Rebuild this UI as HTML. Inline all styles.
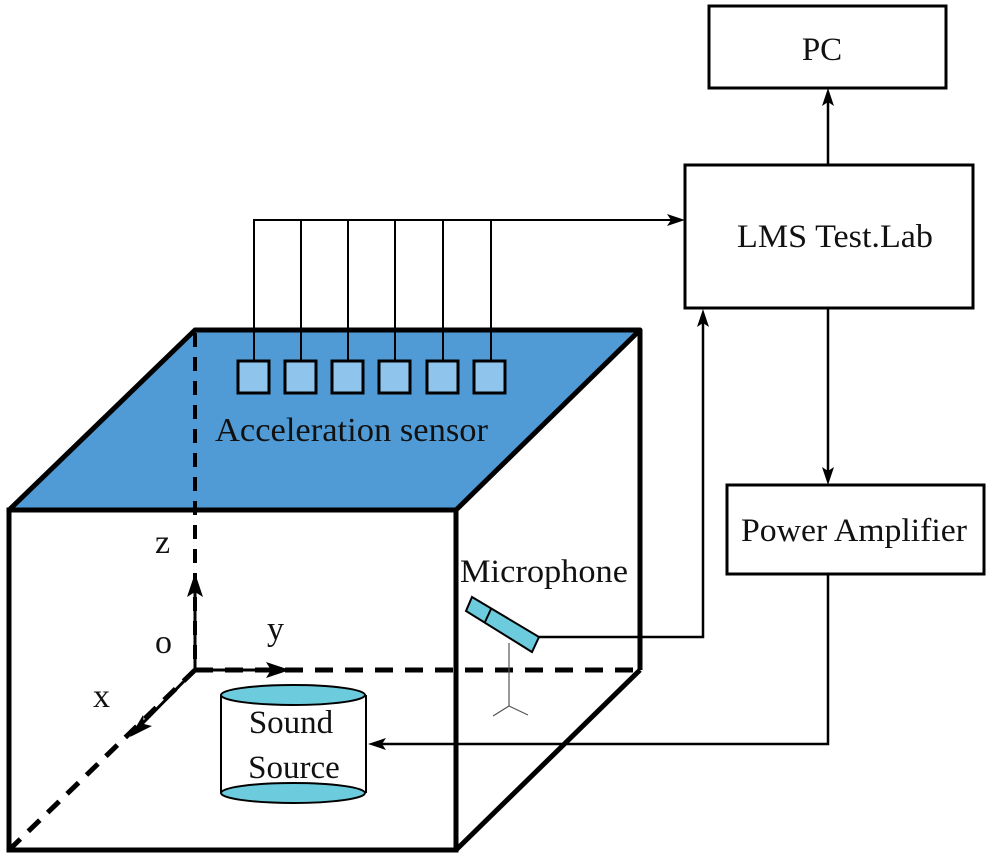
<!DOCTYPE html>
<html><head><meta charset="utf-8"><style>
html,body{margin:0;padding:0;background:#fff}
svg{display:block}
text{font-family:"Liberation Serif",serif;fill:#111}
</style></head><body>
<svg width="991" height="858" viewBox="0 0 991 858" xmlns="http://www.w3.org/2000/svg">
<polygon points="9,510 195,330 640,330 456,510" fill="#509bd6" stroke="#000" stroke-width="5" stroke-linejoin="round"/>
<rect x="9" y="510" width="447" height="340" fill="none" stroke="#000" stroke-width="5"/>
<line x1="640" y1="330" x2="640" y2="670" stroke="#000" stroke-width="5"/>
<line x1="640" y1="670" x2="456" y2="850" stroke="#000" stroke-width="5"/>
<line x1="195" y1="333" x2="195" y2="670" stroke="#000" stroke-width="4" stroke-dasharray="14,10"/>
<line x1="195" y1="670" x2="640" y2="670" stroke="#000" stroke-width="5" stroke-dasharray="18,12"/>
<line x1="195" y1="670" x2="9" y2="850" stroke="#000" stroke-width="5" stroke-dasharray="16,11"/>
<g stroke="#000" stroke-width="3">
<line x1="195" y1="670" x2="195" y2="590"/>
<line x1="195" y1="670" x2="275" y2="670"/>
<line x1="195" y1="670" x2="142" y2="724"/>
</g>
<polygon points="195,573 187,597 195,592 203,597" fill="#000"/>
<polygon points="290,670 266,662 271,670 266,678" fill="#000"/>
<polygon points="130,737 152,726 144,724 143,715" fill="#000"/>
<text x="155" y="553" font-size="34">z</text>
<text x="155" y="653" font-size="34">o</text>
<text x="267" y="640" font-size="34">y</text>
<text x="93" y="707" font-size="34">x</text>
<g stroke="#000" stroke-width="2">
<polyline points="254,361 254,220 672,220" fill="none"/>
<line x1="301" y1="220" x2="301" y2="361"/><line x1="348" y1="220" x2="348" y2="361"/>
<line x1="395" y1="220" x2="395" y2="361"/><line x1="443" y1="220" x2="443" y2="361"/>
<line x1="491" y1="220" x2="491" y2="361"/>
</g>
<polygon points="685,220 667,214 671,220 667,226" fill="#000"/>
<g fill="#8fc4ec" stroke="#000" stroke-width="3">
<rect x="238" y="361" width="31" height="32"/><rect x="285" y="361" width="31" height="32"/>
<rect x="332" y="361" width="31" height="32"/><rect x="379" y="361" width="31" height="32"/>
<rect x="427" y="361" width="31" height="32"/><rect x="474" y="361" width="31" height="32"/>
</g>
<text x="215" y="441" font-size="34" textLength="273" lengthAdjust="spacingAndGlyphs">Acceleration sensor</text>
<rect x="709" y="6" width="237" height="82" fill="#fff" stroke="#000" stroke-width="3"/>
<text x="822" y="60" font-size="33" text-anchor="middle">PC</text>
<rect x="685" y="165" width="288" height="143" fill="#fff" stroke="#000" stroke-width="3"/>
<text x="737" y="247" font-size="33" textLength="196" lengthAdjust="spacingAndGlyphs">LMS Test.Lab</text>
<rect x="727" y="485" width="257" height="89" fill="#fff" stroke="#000" stroke-width="3"/>
<text x="741" y="541" font-size="33" textLength="226" lengthAdjust="spacingAndGlyphs">Power Amplifier</text>
<g stroke="#000" stroke-width="2.5" fill="none">
<line x1="828" y1="165" x2="828" y2="100"/>
<line x1="828" y1="308" x2="828" y2="472"/>
<polyline points="828,574 828,744 382,744"/>
<polyline points="539,637 703,637 703,322"/>
</g>
<polygon points="828,88 822,106 828,102 834,106" fill="#000"/>
<polygon points="828,485 822,467 828,471 834,467" fill="#000"/>
<polygon points="368,744 386,738 382,744 386,750" fill="#000"/>
<polygon points="703,309 697,327 703,323 709,327" fill="#000"/>
<text x="460" y="582" font-size="33" textLength="168" lengthAdjust="spacingAndGlyphs">Microphone</text>
<g stroke="#555" stroke-width="1.2">
<line x1="509" y1="643" x2="509" y2="706"/>
<line x1="509" y1="706" x2="493" y2="716"/><line x1="509" y1="706" x2="528" y2="715"/>
</g>
<polygon points="472,597 539,637 532,652 466,611" fill="#6ccbdc" stroke="#000" stroke-width="2"/>
<line x1="491" y1="609" x2="485" y2="622" stroke="#000" stroke-width="2"/>
<rect x="221" y="695" width="145" height="98" fill="#fff" stroke="none"/>
<line x1="221" y1="695" x2="221" y2="793" stroke="#000" stroke-width="2"/>
<line x1="366" y1="695" x2="366" y2="793" stroke="#000" stroke-width="2"/>
<ellipse cx="293" cy="793" rx="72" ry="10" fill="#6ccbdc" stroke="#000" stroke-width="2"/>
<ellipse cx="293" cy="695" rx="72" ry="10" fill="#6ccbdc" stroke="#000" stroke-width="2"/>
<text x="291" y="733" font-size="33" text-anchor="middle">Sound</text>
<text x="294" y="778" font-size="33" text-anchor="middle">Source</text>
</svg>
</body></html>
